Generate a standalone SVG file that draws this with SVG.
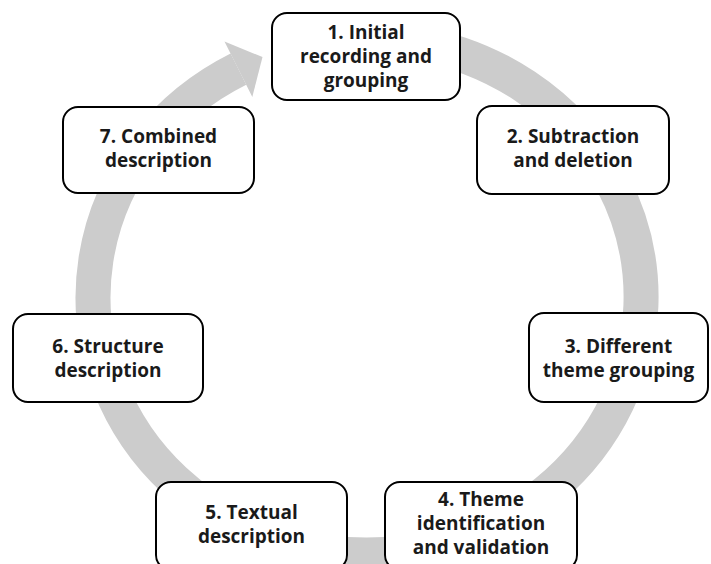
<svg xmlns="http://www.w3.org/2000/svg" width="711" height="564" viewBox="0 0 711 564">
<style>
.box{fill:#ffffff;stroke:#000000;stroke-width:2}
.t{font-family:"Open Sans","Liberation Sans",sans-serif;font-weight:700;font-size:19px;fill:#1a1a1a;text-anchor:middle}
.ring{fill:none;stroke:#cccccc;stroke-width:35}
.head{fill:#cccccc}
</style>
<rect width="711" height="564" fill="#ffffff"/>
<g id="connectors">
<path class="ring" d="M 414.6 42.9 A 274 258 0 1 1 238.4 69.2"/>
<polygon class="head" points="262.5,57.1 224.5,41.5 252.3,96.9"/>
</g>
<g id="node1">
<rect class="box" x="272" y="13" width="188" height="87" rx="15"/>
<text class="t" x="366" y="39">1. Initial</text>
<text class="t" x="366" y="63">recording and</text>
<text class="t" x="366" y="87">grouping</text>
</g>
<g id="node2">
<rect class="box" x="477" y="106" width="192" height="88" rx="15"/>
<text class="t" x="573" y="143">2. Subtraction</text>
<text class="t" x="573" y="167">and deletion</text>
</g>
<g id="node3">
<rect class="box" x="529" y="313" width="179" height="89" rx="15"/>
<text class="t" x="618.5" y="353">3. Different</text>
<text class="t" x="618.5" y="377">theme grouping</text>
</g>
<g id="node4">
<rect class="box" x="385" y="482" width="192" height="88" rx="15"/>
<text class="t" x="481" y="506">4. Theme</text>
<text class="t" x="481" y="530">identification</text>
<text class="t" x="481" y="554">and validation</text>
</g>
<g id="node5">
<rect class="box" x="156" y="482" width="191" height="88" rx="15"/>
<text class="t" x="251.5" y="519">5. Textual</text>
<text class="t" x="251.5" y="543">description</text>
</g>
<g id="node6">
<rect class="box" x="13" y="314" width="190" height="88" rx="15"/>
<text class="t" x="108" y="353">6. Structure</text>
<text class="t" x="108" y="377">description</text>
</g>
<g id="node7">
<rect class="box" x="63" y="107" width="191" height="86" rx="15"/>
<text class="t" x="158.5" y="143">7. Combined</text>
<text class="t" x="158.5" y="167">description</text>
</g>
</svg>
